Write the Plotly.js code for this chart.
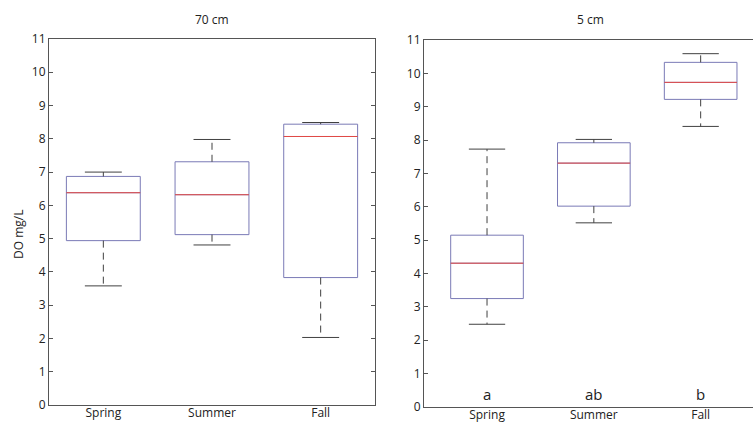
<!DOCTYPE html>
<html>
<head>
<meta charset="utf-8">
<script src="https://cdn.plot.ly/plotly-3.0.1.min.js"></script>
<style>
  html, body { margin: 0; padding: 0; background: #fff; }
  #chart { width: 753px; height: 423px; }
</style>
</head>
<body>
<div id="chart"></div>
<script>
// Dissolved oxygen (mg/L) by season at two depths: five-number summaries.
const seasons = ['Spring', 'Summer', 'Fall'];

// 70 cm depth
const deepLow    = [3.58, 4.81, 2.03];
const deepQ1     = [4.94, 5.12, 3.83];
const deepMedian = [6.38, 6.32, 8.07];
const deepQ3     = [6.87, 7.31, 8.44];
const deepHigh   = [7.00, 7.98, 8.49];

// 5 cm depth
const shallowLow    = [2.48, 5.52, 8.41];
const shallowQ1     = [3.25, 6.02, 9.22];
const shallowMedian = [4.31, 7.31, 9.73];
const shallowQ3     = [5.15, 7.92, 10.33];
const shallowHigh   = [7.73, 8.02, 10.59];

// Significance groupings for the 5 cm panel
const groupLetters = ['a', 'ab', 'b'];

const yTicks = [0, 1, 2, 3, 4, 5, 6, 7, 8, 9, 10, 11];

const FONT = '"Open Sans", "Noto Sans", sans-serif';
const BOX_COLOR = '#7a7ab6';
const MEDIAN_COLOR = '#e24a46';
const WHISKER_COLOR = '#404040';
const AXIS_COLOR = '#555555';
const BOX_WIDTH = 0.68;
const CAP_HALF = 0.17;

const W = 753, H = 423;

// Builds the traces of a MATLAB-style box plot on axes (xa, ya)
function boxGroup(low, q1, med, q3, high, xa, ya) {
  const pos = seasons.map((_, i) => i + 1);
  const traces = [];

  // box body (fences set to the quartiles, whiskers drawn separately)
  traces.push({
    type: 'box',
    x: pos,
    q1: q1, median: med, q3: q3,
    lowerfence: q1, upperfence: q3,
    width: BOX_WIDTH,
    whiskerwidth: 0,
    boxpoints: false,
    fillcolor: 'rgba(255,255,255,0)',
    line: { color: BOX_COLOR, width: 1 },
    xaxis: xa, yaxis: ya,
    hoverinfo: 'skip',
    showlegend: false
  });

  // dashed whiskers
  const wx = [], wy = [];
  pos.forEach((p, i) => {
    wx.push(p, p, null, p, p, null);
    wy.push(q3[i], high[i], null, q1[i], low[i], null);
  });
  traces.push({
    type: 'scatter', mode: 'lines', x: wx, y: wy,
    line: { color: WHISKER_COLOR, width: 1, dash: '7px,5px' },
    xaxis: xa, yaxis: ya, hoverinfo: 'skip', showlegend: false
  });

  // whisker caps
  const cx = [], cy = [];
  pos.forEach((p, i) => {
    cx.push(p - CAP_HALF, p + CAP_HALF, null, p - CAP_HALF, p + CAP_HALF, null);
    cy.push(high[i], high[i], null, low[i], low[i], null);
  });
  traces.push({
    type: 'scatter', mode: 'lines', x: cx, y: cy,
    line: { color: WHISKER_COLOR, width: 1 },
    xaxis: xa, yaxis: ya, hoverinfo: 'skip', showlegend: false
  });

  // red median lines
  const mx = [], my = [];
  pos.forEach((p, i) => {
    mx.push(p - BOX_WIDTH / 2, p + BOX_WIDTH / 2, null);
    my.push(med[i], med[i], null);
  });
  traces.push({
    type: 'scatter', mode: 'lines', x: mx, y: my,
    line: { color: MEDIAN_COLOR, width: 1 },
    xaxis: xa, yaxis: ya, hoverinfo: 'skip', showlegend: false
  });

  return traces;
}

const data = [].concat(
  boxGroup(deepLow, deepQ1, deepMedian, deepQ3, deepHigh, 'x', 'y'),
  boxGroup(shallowLow, shallowQ1, shallowMedian, shallowQ3, shallowHigh, 'x2', 'y2')
);

function xAxis(domain, range) {
  return {
    domain: domain,
    range: range,
    tickmode: 'array',
    tickvals: seasons.map((_, i) => i + 1),
    ticktext: seasons,
    ticks: '',
    ticklabelstandoff: -3,
    showline: true, mirror: true,
    linecolor: AXIS_COLOR, linewidth: 1,
    showgrid: false, zeroline: false,
    tickfont: { family: FONT, size: 12, color: '#222' }
  };
}

function yAxis(domain, anchor, mirror) {
  return {
    domain: domain,
    anchor: anchor,
    range: [0, 11],
    tickmode: 'array',
    tickvals: yTicks,
    ticks: 'inside', ticklen: 4, tickcolor: AXIS_COLOR,
    showline: true, mirror: mirror,
    linecolor: AXIS_COLOR, linewidth: 1,
    showgrid: false, zeroline: false,
    tickfont: { family: FONT, size: 12, color: '#222' }
  };
}

const annotations = [
  { text: '70 cm', xref: 'paper', yref: 'paper', x: 212 / W, y: 1 - 20 / H,
    xanchor: 'center', yanchor: 'middle', showarrow: false,
    font: { family: FONT, size: 12, color: '#222' } },
  { text: '5 cm', xref: 'paper', yref: 'paper', x: 590 / W, y: 1 - 20 / H,
    xanchor: 'center', yanchor: 'middle', showarrow: false,
    font: { family: FONT, size: 12, color: '#222' } },
  { text: 'DO mg/L', xref: 'paper', yref: 'paper', x: 18 / W, y: 1 - 235 / H,
    xanchor: 'center', yanchor: 'middle', textangle: -90, showarrow: false,
    font: { family: FONT, size: 12, color: '#222' } }
];

groupLetters.forEach((t, i) => {
  annotations.push({
    text: t, xref: 'x2', yref: 'y2', x: i + 1, y: 0.38,
    xanchor: 'center', yanchor: 'middle', showarrow: false,
    font: { family: FONT, size: 15, color: '#222' }
  });
});

const layout = {
  width: W, height: H,
  margin: { l: 0, r: 0, t: 0, b: 0 },
  paper_bgcolor: '#ffffff',
  plot_bgcolor: '#ffffff',
  showlegend: false,
  xaxis: xAxis([49 / W, 375 / W], [0.5, 3.5]),
  yaxis: yAxis([18 / H, 384 / H], 'x', 'ticks'),
  xaxis2: Object.assign(xAxis([424 / W, 1], [0.41, 3.49]), { anchor: 'y2' }),
  yaxis2: yAxis([16 / H, 383 / H], 'x2', false),
  annotations: annotations
};

Plotly.newPlot('chart', data, layout, { staticPlot: true, displayModeBar: false });
</script>
</body>
</html>
